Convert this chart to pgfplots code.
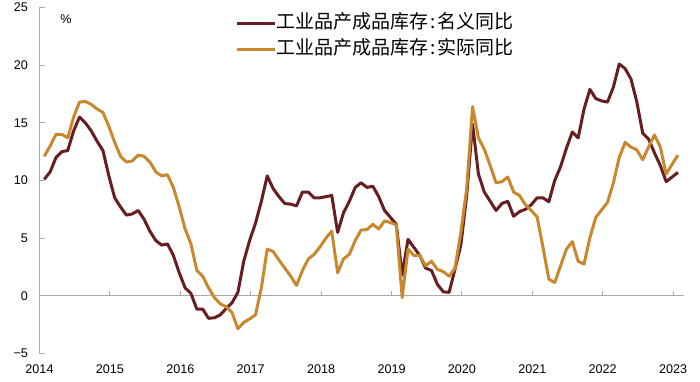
\documentclass[border=0pt]{standalone}
\usepackage{pgfplots}
\pgfplotsset{compat=1.18}
\usepackage{pgfplotstable}
\usepackage{fontspec}
\setmainfont{Liberation Sans}
\newfontfamily\cjk{Noto Sans CJK SC}
\definecolor{nom}{RGB}{104,30,32}
\definecolor{realc}{RGB}{200,136,46}
\definecolor{axgray}{RGB}{170,170,170}

\pgfplotstableread{
i v
0 10.1
1 10.75
2 12.0
3 12.5
4 12.6
5 14.3
6 15.5
7 15.0
8 14.3
9 13.4
10 12.6
11 10.4
12 8.5
13 7.7
14 7.0
15 7.1
16 7.4
17 6.65
18 5.6
19 4.8
20 4.4
21 4.5
22 3.5
23 2.0
24 0.7
25 0.2
26 -1.15
27 -1.15
28 -1.95
29 -1.9
30 -1.65
31 -1.1
32 -0.6
33 0.3
34 3.0
35 4.8
36 6.3
37 8.2
38 10.4
39 9.3
40 8.6
41 8.0
42 7.95
43 7.8
44 9.0
45 9.0
46 8.5
47 8.5
48 8.6
49 8.7
50 5.5
51 7.2
52 8.2
53 9.4
54 9.8
55 9.4
56 9.5
57 8.6
58 7.4
59 6.8
60 6.2
61 1.8
62 4.9
63 4.2
64 3.5
65 2.4
66 2.2
67 1.0
68 0.35
69 0.3
70 2.3
71 4.4
72 8.7
73 14.9
74 10.55
75 9.0
76 8.2
77 7.4
78 8.0
79 8.2
80 6.9
81 7.3
82 7.5
83 7.9
84 8.5
85 8.5
86 8.15
87 10.0
88 11.2
89 12.8
90 14.2
91 13.7
92 16.2
93 17.9
94 17.1
95 16.9
96 16.8
97 18.1
98 20.1
99 19.7
100 18.8
101 16.8
102 14.1
103 13.6
104 12.4
105 11.3
106 9.9
107 10.3
108 10.7
}\nominal

\pgfplotstableread{
i v
0 12.1
1 13.0
2 14.0
3 14.0
4 13.7
5 15.5
6 16.8
7 16.85
8 16.6
9 16.2
10 15.9
11 14.7
12 13.3
13 12.1
14 11.6
15 11.7
16 12.2
17 12.1
18 11.6
19 10.75
20 10.4
21 10.5
22 9.4
23 7.7
24 5.8
25 4.5
26 2.2
27 1.7
28 0.7
29 -0.15
30 -0.7
31 -0.95
32 -1.45
33 -2.85
34 -2.3
35 -2.0
36 -1.65
37 0.7
38 4.05
39 3.85
40 3.1
41 2.4
42 1.7
43 0.9
44 2.2
45 3.2
46 3.6
47 4.25
48 5.0
49 5.6
50 2.0
51 3.2
52 3.6
53 4.8
54 5.7
55 5.75
56 6.2
57 5.8
58 6.5
59 6.35
60 6.15
61 -0.15
62 4.05
63 3.5
64 3.5
65 2.6
66 3.0
67 2.3
68 2.1
69 1.7
70 2.4
71 5.5
72 9.3
73 16.4
74 13.7
75 12.7
76 11.3
77 9.8
78 9.9
79 10.3
80 9.0
81 8.7
82 7.9
83 7.4
84 6.85
85 4.2
86 1.45
87 1.15
88 2.6
89 4.05
90 4.7
91 3.0
92 2.75
93 5.05
94 6.8
95 7.45
96 8.1
97 9.8
98 12.0
99 13.3
100 12.9
101 12.65
102 11.8
103 12.9
104 13.95
105 12.9
106 10.55
107 11.4
108 12.2
}\realt

\begin{document}
\begin{tikzpicture}[x=1bp,y=1bp]
\useasboundingbox (0,0) rectangle (700,381);
% zero line with upward year ticks
\begin{axis}[
  at={(39.5bp,27.5bp)}, anchor=south west,
  scale only axis, width=644.5bp, height=346bp,
  xmin=-0.816, xmax=109.04, ymin=-5, ymax=25,
  axis x line=middle, axis y line=none,
  x axis line style={draw=axgray, line width=1bp, -},
  xtick={-0.816,11.184,23.184,35.184,47.184,59.184,71.184,83.184,95.184,107.184},
  xticklabels={},
  xtick align=inside,
  major tick length=5bp,
  x tick style={draw=axgray, line width=1bp},
  ytick=\empty,
]
\end{axis}
\begin{axis}[
  at={(39.5bp,27.5bp)}, anchor=south west,
  scale only axis, width=644.5bp, height=346bp,
  xmin=-0.816, xmax=109.04, ymin=-5, ymax=25,
  axis lines*=left,
  x axis line style={draw=none},
  y axis line style={draw=axgray, line width=1bp},
  xtick={-0.816,11.184,23.184,35.184,47.184,59.184,71.184,83.184,95.184,107.184},
  xticklabels={2014,2015,2016,2017,2018,2019,2020,2021,2022,2023},
  x tick style={draw=none},
  ytick={-5,0,5,10,15,20,25},
  yticklabels={−5,0,5,10,15,20,25},
  y tick style={draw=axgray, line width=1bp},
  ytick align=inside,
  major tick length=5bp,
  tick label style={font=\fontsize{12.6bp}{15bp}\selectfont, text=black},
  yticklabel style={xshift=-8bp},
  xticklabel style={yshift=-8bp},
  legend cell align=left,
  legend style={
    at={(0.2987,0.9176)}, anchor=west,
    draw=none, fill=none,
    font=\cjk\fontsize{19bp}{22bp}\selectfont,
    nodes={inner sep=0pt, text height=14bp, text depth=4bp},
    row sep=8bp,
    /tikz/every even column/.append style={column sep=4bp},
  },
  legend image code/.code={\draw[#1, line width=3bp] (0bp,0bp) -- (38bp,0bp);},
]
\addplot[nom, line width=3bp, line join=round] table[x=i, y=v] {\nominal};
\addlegendentry{工业品产成品库存\hspace{2bp}:\hspace{2bp}名义同比}
\addplot[realc, line width=3bp, line join=round] table[x=i, y=v] {\realt};
\addlegendentry{工业品产成品库存\hspace{2bp}:\hspace{2bp}实际同比}
\node[font=\fontsize{12.6bp}{15bp}\selectfont] at (rel axis cs:0.0411,0.9668) {\%};
\end{axis}
\end{tikzpicture}
\end{document}
